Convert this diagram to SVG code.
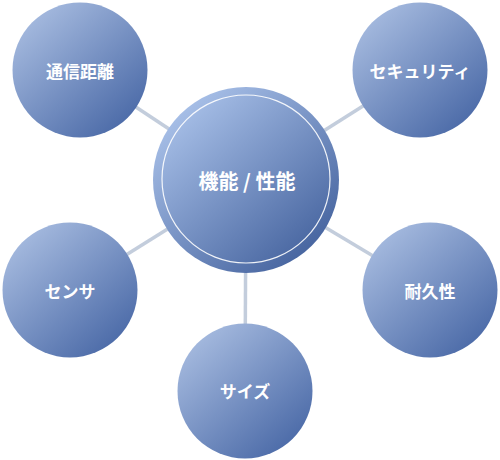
<svg xmlns="http://www.w3.org/2000/svg" width="500" height="460" viewBox="0 0 500 460">
<style>
.lbl{font-family:"Noto Sans CJK JP","Liberation Sans",sans-serif;font-weight:bold;fill:#ffffff;text-anchor:middle;dominant-baseline:central}
.sm{font-size:17px}
.lg{font-size:20px}
.conn{stroke:#c3cddc;stroke-width:3.5;fill:none}
.ring{fill:none;stroke:#ffffff;stroke-width:1.2;stroke-opacity:0.9}
</style>
<defs>
<linearGradient id="g" x1="0.15" y1="0.1" x2="0.85" y2="0.9">
<stop offset="0" stop-color="#a4b9de"/>
<stop offset="1" stop-color="#4c6ba8"/>
</linearGradient>
<linearGradient id="gc" x1="0.15" y1="0.1" x2="0.85" y2="0.9">
<stop offset="0" stop-color="#a8c0e8"/>
<stop offset="1" stop-color="#46649f"/>
</linearGradient>
</defs>
<rect width="500" height="460" fill="#ffffff"/>
<g id="connectors">
<line class="conn" x1="246" y1="180" x2="80" y2="70"/>
<line class="conn" x1="246" y1="180" x2="420" y2="70"/>
<line class="conn" x1="246" y1="180" x2="70" y2="290"/>
<line class="conn" x1="246" y1="180" x2="430" y2="290"/>
<line class="conn" x1="246" y1="180" x2="245" y2="391"/>
</g>
<g id="n-center">
<circle cx="246" cy="180" r="93" fill="url(#gc)"/>
<circle class="ring" cx="246" cy="179" r="84"/>
<text class="lbl lg" x="247" y="180">機能 / 性能</text>
</g>
<g id="n-tsushin">
<circle cx="80" cy="70" r="67.5" fill="url(#g)"/>
<text class="lbl sm" x="80" y="70">通信距離</text>
</g>
<g id="n-security">
<circle cx="420" cy="70" r="67.5" fill="url(#g)"/>
<text class="lbl sm" x="420" y="70">セキュリティ</text>
</g>
<g id="n-sensor">
<circle cx="70" cy="290" r="67.5" fill="url(#g)"/>
<text class="lbl sm" x="70" y="290">センサ</text>
</g>
<g id="n-durability">
<circle cx="430" cy="290" r="67.5" fill="url(#g)"/>
<text class="lbl sm" x="430" y="290">耐久性</text>
</g>
<g id="n-size">
<circle cx="245" cy="391" r="67.5" fill="url(#g)"/>
<text class="lbl sm" x="245" y="390">サイズ</text>
</g>
</svg>
